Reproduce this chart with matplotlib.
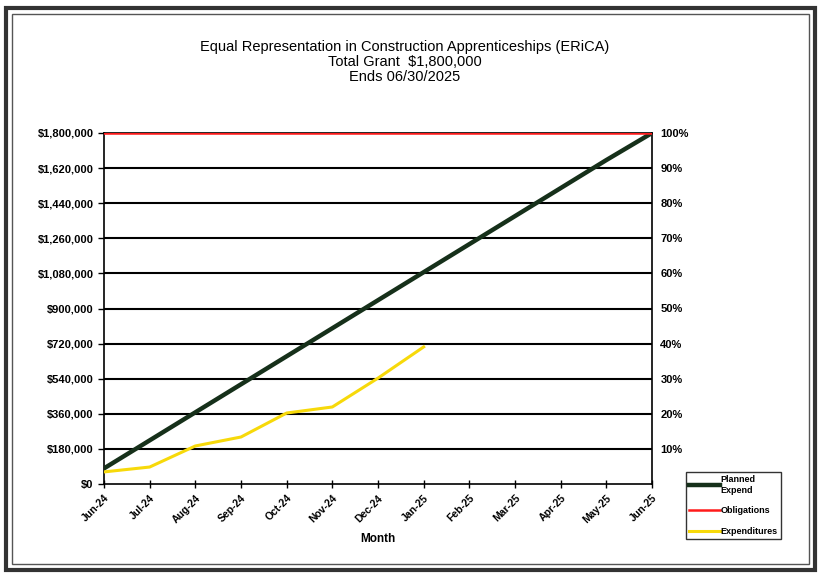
import numpy as np
import matplotlib
matplotlib.use('Agg')
import matplotlib.pyplot as plt
from matplotlib.patches import Rectangle

plt.rcParams['font.family'] = ['Liberation Sans', 'DejaVu Sans']

# data
months = ['Jun-24', 'Jul-24', 'Aug-24', 'Sep-24', 'Oct-24', 'Nov-24', 'Dec-24',
          'Jan-25', 'Feb-25', 'Mar-25', 'Apr-25', 'May-25', 'Jun-25']
planned = [80000, 223750, 367500, 511250, 655000, 798750, 942500,
           1086250, 1230000, 1373750, 1517500, 1661250, 1800000]
obligations = [1800000] * 13
expenditures = [62000, 87000, 195000, 241000, 364000, 395000, 543000, 703000]

y_ticks = [0, 180000, 360000, 540000, 720000, 900000, 1080000, 1260000,
           1440000, 1620000, 1800000]
pct_labels = ['10%', '20%', '30%', '40%', '50%', '60%', '70%', '80%', '90%', '100%']

fig = plt.figure(figsize=(8.21, 5.76), dpi=100)
ax = fig.add_axes([104/821, 1 - 484/576, 548/821, 351/576])

x = np.arange(len(months))
for v in y_ticks[1:]:
    ax.axhline(v, color='black', lw=1.5, zorder=1)

ax.plot(x, planned, color='#16301a', lw=3.2, zorder=3, label='Planned\nExpend')
ax.plot(x, obligations, color='#ff1a1a', lw=1.8, zorder=4, label='Obligations')
ax.plot(x[:len(expenditures)], expenditures, color='#f7d90a', lw=2.2, zorder=3,
        label='Expenditures')

ax.set_xlim(0, 12)
ax.set_ylim(0, 1800000)
ax.set_yticks(y_ticks)
ax.set_yticklabels(['${:,}'.format(v) if v else '$0' for v in y_ticks],
                   fontsize=8, fontweight='bold')
ax.set_xticks(x)
ax.set_xticklabels(months, rotation=45, ha='right', rotation_mode='anchor',
                   fontsize=7.5, fontweight='bold')
ax.tick_params(axis='x', direction='inout', length=6, width=1)
ax.tick_params(axis='y', direction='out', length=4, width=1)
ax.set_xlabel('Month', fontsize=8.5, fontweight='bold', labelpad=6)
for s in ax.spines.values():
    s.set_linewidth(1.2)

ax2 = ax.twinx()
ax2.set_ylim(0, 1800000)
ax2.set_yticks(y_ticks[1:])
ax2.set_yticklabels(pct_labels, fontsize=8, fontweight='bold')
ax2.tick_params(axis='y', length=0, pad=6)
for s in ax2.spines.values():
    s.set_visible(False)

fig.text(0.493, 0.93, 'Equal Representation in Construction Apprenticeships (ERiCA)\n'
         'Total Grant  $1,800,000\nEnds 06/30/2025',
         ha='center', va='top', fontsize=10.5, linespacing=1.08)

handles, labels = ax.get_legend_handles_labels()
leg = fig.legend(handles, labels, loc='upper left',
                 bbox_to_anchor=(686/821, 1 - 472/576), fontsize=6.5,
                 frameon=True, fancybox=False, edgecolor='black',
                 handlelength=3.4, handletextpad=0.1, labelspacing=1.3,
                 borderpad=0.35, borderaxespad=0)
for t in leg.get_texts():
    t.set_fontweight('bold')
leg.get_frame().set_linewidth(1.0)
leg.set_zorder(5)

# outer frame of the scanned sheet
fig.patches.append(Rectangle((6/821, 6/576), 809/821, 562/576,
                             transform=fig.transFigure, fill=False,
                             edgecolor='#333333', lw=3))
fig.patches.append(Rectangle((12/821, 12/576), 797/821, 550/576,
                             transform=fig.transFigure, fill=False,
                             edgecolor='#555555', lw=1))

fig.savefig('out.png', dpi=100)
